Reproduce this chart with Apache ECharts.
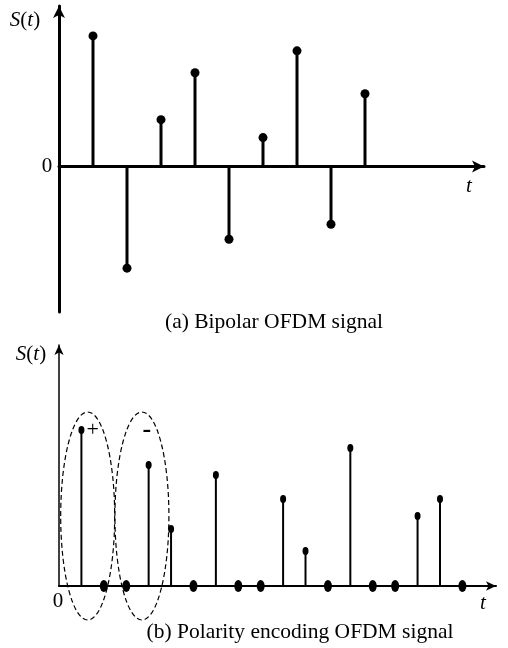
<!DOCTYPE html>
<html>
<head>
<meta charset="utf-8">
<script src="https://cdn.jsdelivr.net/npm/echarts@6/dist/echarts.min.js"></script>
<style>
  html, body { margin: 0; padding: 0; background: #fff; }
  #chart { width: 508px; height: 648px; }
</style>
</head>
<body>
<div id="chart"></div>
<script>
// (a) bipolar samples
const topT = [1, 2, 3, 4, 5, 6, 7, 8, 9]
const topS = [13.1, -10.2, 4.7, 9.4, -7.3, 2.9, 11.6, -5.8, 7.3]
// (b) polarity encoded samples, two slots per bipolar sample
const botT = [1, 2, 3, 4, 5, 6, 7, 8, 9, 10, 11, 12, 13, 14, 15, 16, 17, 18]
const botS = [15.6, 0, 0, 12.1, 5.7, 0, 11.1, 0, 0, 8.7, 3.5, 0, 13.8, 0, 0, 7.0, 8.7, 0]
// dashed groups: [t, S] centres
const groupCentres = [[1.28, 7.0], [3.7, 7.0]]
const groupMarks = ['+', '-']

const serif = '"Liberation Serif", "DejaVu Serif", serif'
const chart = echarts.init(document.getElementById('chart'))

const pairs = (xs, ys) => xs.map((x, i) => [x, ys[i]])

function axisX(idx, max, w, arrow) {
  return {
    type: 'value', gridIndex: idx, min: 0, max: max,
    axisLine: { onZero: true, symbol: ['none', 'arrow'], symbolSize: arrow, lineStyle: { color: '#000', width: w } },
    axisTick: { show: false }, axisLabel: { show: false }, splitLine: { show: false }
  }
}
function axisY(idx, min, max, w, arrow) {
  return {
    type: 'value', gridIndex: idx, min: min, max: max,
    axisLine: { show: true, onZero: false, symbol: ['none', 'arrow'], symbolSize: arrow, lineStyle: { color: '#000', width: w } },
    axisTick: { show: false }, axisLabel: { show: false }, splitLine: { show: false }
  }
}

const option = {
  backgroundColor: '#fff',
  animation: false,
  grid: [
    { left: 59, right: 24, top: 6, bottom: 336 },
    { left: 59, right: 12, top: 345, bottom: 62 }
  ],
  xAxis: [axisX(0, 12.5, 3, [9, 12]), axisX(1, 19.5, 2, [7, 10])],
  yAxis: [axisY(0, -14.6, 16.1, 3, [9, 12]), axisY(1, 0, 24.1, 1.5, [7, 10])],
  series: [
    {
      type: 'bar', xAxisIndex: 0, yAxisIndex: 0, barWidth: 3,
      itemStyle: { color: '#000' }, data: pairs(topT, topS)
    },
    {
      type: 'scatter', xAxisIndex: 0, yAxisIndex: 0, symbolSize: 9,
      itemStyle: { color: '#000', opacity: 1 }, data: pairs(topT, topS)
    },
    {
      type: 'bar', xAxisIndex: 1, yAxisIndex: 1, barWidth: 2,
      itemStyle: { color: '#000' }, data: pairs(botT, botS)
    },
    {
      type: 'scatter', xAxisIndex: 1, yAxisIndex: 1,
      symbolSize: (v) => v[1] === 0 ? [8, 12] : [6, 8],
      itemStyle: { color: '#000', opacity: 1 }, data: pairs(botT, botS)
    }
  ]
}
chart.setOption(option)

// labels and dashed groups
const rich = {
  i: { fontFamily: serif, fontStyle: 'italic', fontSize: 21, fill: '#000' },
  n: { fontFamily: serif, fontSize: 21, fill: '#000' }
}
function txt(x, y, text, extra) {
  return {
    type: 'text', x: x, y: y,
    style: Object.assign({ text: text, fontFamily: serif, fontSize: 21, fill: '#000', align: 'center', verticalAlign: 'middle', rich: rich }, extra || {})
  }
}
const gfx = [
  txt(25, 20, '{i|S}{n|(}{i|t}{n|)}'),
  txt(47, 166, '0'),
  txt(469, 186, '{i|t}'),
  txt(274, 322, '(a) Bipolar OFDM signal', { fontSize: 21.5 }),
  txt(31, 354, '{i|S}{n|(}{i|t}{n|)}'),
  txt(58, 601, '0'),
  txt(483, 603, '{i|t}'),
  txt(300, 632, '(b) Polarity encoding OFDM signal', { fontSize: 21.5 })
]
groupCentres.forEach((c, i) => {
  const p = chart.convertToPixel({ gridIndex: 1 }, c)
  gfx.push({
    type: 'ellipse', shape: { cx: p[0], cy: p[1], rx: 27, ry: 104 },
    style: { fill: 'none', stroke: '#000', lineWidth: 1.2, lineDash: [5, 3] }
  })
  gfx.push(txt(p[0] + 5, p[1] - 86, groupMarks[i], { fontSize: i === 0 ? 22 : 26, fontWeight: i === 0 ? 'normal' : 'bold' }))
})
chart.setOption({ graphic: gfx })
</script>
</body>
</html>
